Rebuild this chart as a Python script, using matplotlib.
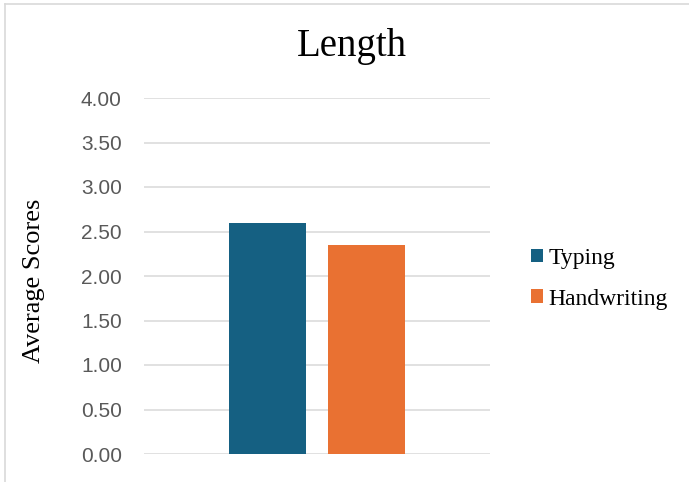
import matplotlib
matplotlib.use("Agg")
import matplotlib.pyplot as plt
from matplotlib.lines import Line2D

# data
series = ["Typing", "Handwriting"]
scores = [2.60, 2.35]
colors = ["#156082", "#E97132"]
yticks = [0.0, 0.5, 1.0, 1.5, 2.0, 2.5, 3.0, 3.5, 4.0]

fig = plt.figure(figsize=(6.89, 4.82), dpi=100)
ax = fig.add_axes([144 / 689, 28 / 482, 346 / 689, 356 / 482])

offsets = [-0.142, 0.142]
for name, val, col, off in zip(series, scores, colors, offsets):
    ax.bar(off, val, width=0.2225, color=col, label=name, zorder=3)

ax.set_xlim(-0.5, 0.5)
ax.set_ylim(0, 4)
ax.set_yticks(yticks)
ax.set_yticklabels([f"{t:.2f}" for t in yticks], fontsize=15,
                   color="#595959", family="Liberation Sans")
ax.set_xticks([])
ax.tick_params(axis="y", length=0, pad=16)
ax.grid(axis="y", color="#D9D9D9", linewidth=1.1, zorder=0)
for s in ax.spines.values():
    s.set_visible(False)

fig.text(351.5 / 689, (482 - 56) / 482, "Length", ha="center", va="baseline",
         fontsize=28, family="Liberation Serif")
fig.text(34 / 689, (482 - 281) / 482, "Average Scores", rotation=90,
         ha="center", va="center", fontsize=19, family="Liberation Serif")

leg = ax.legend(loc="upper left", bbox_to_anchor=(531 / 689, (482 - 248) / 482),
                bbox_transform=fig.transFigure, frameon=False,
                prop={"family": "Liberation Serif", "size": 17},
                handlelength=0.5, handleheight=0.5, handletextpad=0.25,
                labelspacing=0.83, borderpad=0, borderaxespad=0)

# light border (left and top edges of the chart frame)
fig.add_artist(Line2D([5 / 689, 5 / 689], [0, 1 - 4 / 482], color="#D9D9D9",
                      linewidth=1.2, transform=fig.transFigure))
fig.add_artist(Line2D([5 / 689, 1], [1 - 4 / 482, 1 - 4 / 482], color="#D9D9D9",
                      linewidth=1.2, transform=fig.transFigure))

fig.savefig("out.png", dpi=100)
